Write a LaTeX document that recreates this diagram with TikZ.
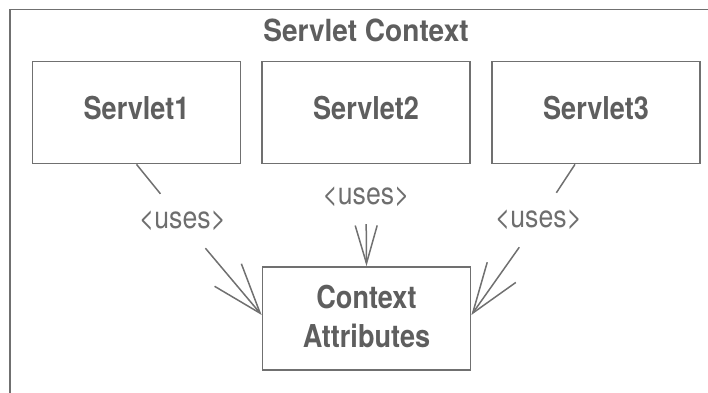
\documentclass[tikz,border=0pt]{standalone}
\usepackage{fontspec}
\setmainfont{TeX Gyre Heros}[FakeStretch=0.86]
\newfontfamily\titlefont{TeX Gyre Heros}[FakeStretch=0.92]
\usetikzlibrary{arrows.meta,calc}
\definecolor{linegray}{HTML}{707070}
\definecolor{textgray}{HTML}{5E5E5E}
\definecolor{lightgray}{HTML}{6E6E6E}
\tikzset{
  box/.style={draw=linegray, line width=1.7pt, minimum width=208pt, minimum height=102pt, inner sep=0pt},
  boxtext/.style={text=textgray, font=\bfseries\fontsize{31.5}{39}\selectfont, inner sep=0pt},
  usetext/.style={text=lightgray, font=\fontsize{31}{36}\selectfont, minimum height=54pt, minimum width=96pt, inner sep=0pt},
  conn/.style={draw=linegray, line width=1.5pt},
  bigbarb/.style={-{Straight Barb[length=50pt,width=35pt,line width=1.5pt]}},
  smallbarb/.style={-{Straight Barb[length=38pt,width=22pt,line width=1.5pt]}}
}
\begin{document}
\begin{tikzpicture}[x=1pt,y=-1pt]
\useasboundingbox (0,0) rectangle (708,392);
% frame
\draw[draw=linegray, line width=1.8pt] (10.3,402) -- (10.3,9.5) -- (712,9.5);
\node[text=textgray, font=\titlefont\bfseries\fontsize{30.5}{36}\selectfont, inner sep=0pt] (title) at (366,30) {Servlet Context};
% servlet boxes
\node[box] (s1) at (136.5,112.5) {};
\node[box] (s2) at (366,112.5) {};
\node[box] (s3) at (596,112.5) {};
\node[boxtext] (t1) at (136.5,108) {Servlet1};
\node[boxtext] (t2) at (366,108) {Servlet2};
\node[boxtext] (t3) at (596,108) {Servlet3};
% context attributes
\node[box, minimum height=103pt] (ctx) at (366.5,318.5) {};
\node[boxtext, align=center] (ct) at (366.5,316) {Context\\Attributes};
% labels
\node[usetext] (u1) at (182.5,221) {<uses>};
\node[usetext] (u2) at (366,197) {<uses>};
\node[usetext] (u3) at (538.5,220) {<uses>};
% connector endpoints
\coordinate (s3b) at ($(s3.south)+(-21,0)$);
\coordinate (lt) at ($(ctx.west)+(0,-3.5)$);
\coordinate (rt) at ($(ctx.east)+(0,-3.5)$);
% connectors
\draw[conn] (s1.south) -- (u1);
\draw[conn, bigbarb] (u1) -- (lt);
\draw[conn, smallbarb] (u2) -- (ctx.north);
\draw[conn] (s3b) -- (u3);
\draw[conn, bigbarb] (u3) -- (rt);
\end{tikzpicture}
\end{document}
